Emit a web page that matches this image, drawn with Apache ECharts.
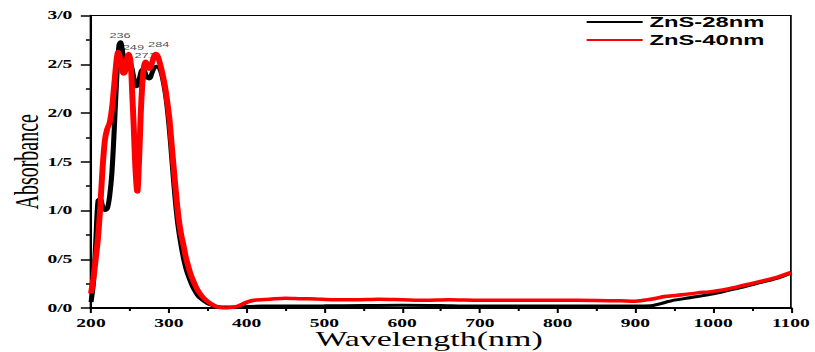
<!DOCTYPE html>
<html>
<head>
<meta charset="utf-8">
<script src="https://cdn.jsdelivr.net/npm/echarts@6/dist/echarts.min.js"></script>
<style>
html,body{margin:0;padding:0;background:#fff;overflow:hidden;width:815px;height:352px;}
#wrap{width:480px;height:352px;transform:scaleX(1.697917);transform-origin:0 0;}
#chart{width:480px;height:352px;}
</style>
</head>
<body>
<div id="wrap"><div id="chart"></div></div>
<script>
// ---- data (wavelength nm, absorbance) ----
const seriesNames = ['ZnS-28nm', 'ZnS-40nm'];

const wl28 = [200,203,206,209,212,215,218,221,224,227,230,233,236,238,240,243,246,249,252,255,258,260,263,266,269,272,275,278,281,284,287,290,293,296,299,302,305,308,311,314,317,320,323,326,330,334,338,342,346,350,355,360,365,370,380,390,400,420,500,550,600,650,680,700,800,900,920,930,950,970,1000,1030,1060,1080,1100];
const abs28 = [0.06,0.25,0.65,1.10,1.12,1.04,1.00,1.02,1.15,1.40,1.85,2.35,2.70,2.73,2.66,2.52,2.50,2.52,2.48,2.36,2.27,2.28,2.38,2.45,2.43,2.36,2.35,2.40,2.46,2.48,2.47,2.42,2.32,2.18,1.98,1.72,1.42,1.14,0.90,0.73,0.59,0.47,0.38,0.31,0.23,0.17,0.12,0.09,0.065,0.045,0.03,0.018,0.012,0.01,0.01,0.012,0.015,0.02,0.022,0.025,0.028,0.025,0.02,0.02,0.02,0.02,0.022,0.04,0.08,0.105,0.145,0.20,0.26,0.30,0.36];

const wl40 = [200,203,206,209,212,215,218,221,224,227,230,233,235,237,240,242,244,246,248.5,251,253,255,257,259.5,262,264,266,268,270,272,275,278,281,283.5,286,289,292,295,298,301,304,307,310,313,316,319,322,325,328,332,336,340,344,348,352,356,360,365,370,375,380,387,395,402,410,430,450,470,490,510,540,570,600,630,660,700,750,800,850,880,900,920,940,960,980,1000,1030,1060,1080,1100];
const abs40 = [0.15,0.30,0.50,0.72,1.05,1.45,1.73,1.84,1.90,2.05,2.30,2.55,2.63,2.58,2.45,2.40,2.43,2.55,2.61,2.52,2.20,1.85,1.45,1.19,1.55,2.00,2.30,2.47,2.53,2.50,2.45,2.50,2.58,2.61,2.58,2.50,2.40,2.28,2.12,1.93,1.65,1.38,1.12,0.90,0.75,0.64,0.52,0.43,0.35,0.27,0.20,0.15,0.11,0.08,0.055,0.035,0.018,0.006,0.0,0.0,0.005,0.015,0.04,0.065,0.08,0.09,0.10,0.095,0.092,0.085,0.085,0.09,0.085,0.08,0.085,0.08,0.08,0.08,0.078,0.075,0.07,0.09,0.12,0.135,0.155,0.17,0.215,0.27,0.31,0.365];

// peak annotations: [wavelength position, absorbance position, text]
const peakLabels = [[237.3, 2.80, '236'], [254.5, 2.67, '249'], [269.5, 2.59, '271'], [287, 2.70, '284']];

const xTicks = {min: 200, max: 1100, interval: 100};
const yTicks = {min: 0, max: 3, interval: 0.5};

function pairs(xs, ys){ return xs.map((x,i)=>[x, ys[i]]); }

const chart = echarts.init(document.getElementById('chart'), null, {renderer: 'svg'});
const tickFont = {color:'#000', fontFamily:'Liberation Serif', fontWeight:'bold', fontSize:11.5, lineHeight:11.5};
chart.setOption({
  animation: false,
  grid: {left: 53.6, right: 14.2, top: 15.5, bottom: 44, show: true, borderColor: '#000', borderWidth: 1,
         containLabel: false, outerBoundsMode: 'none'},
  legend: {
    data: seriesNames, orient: 'vertical', left: 344.5, top: 15, padding: 0,
    itemWidth: 33, itemHeight: 14, itemGap: 4,
    textStyle: {color:'#000', fontFamily:'Liberation Sans', fontWeight:'bold', fontSize:14, padding:[0,0,0,-1]},
    lineStyle: {width: 2},
    itemStyle: {opacity: 0, borderWidth: 0}
  },
  xAxis: {
    type: 'value', min: xTicks.min, max: xTicks.max, interval: xTicks.interval,
    name: 'Wavelength(nm)', nameLocation: 'middle', nameGap: 21, nameMoveOverlap: false,
    nameTextStyle: {color:'#000', fontFamily:'Liberation Serif', fontSize:20, lineHeight:20, padding:[0,14,0,0]},
    axisLine: {show: true, lineStyle: {color:'#000', width: 2}},
    axisTick: {show: true, length: 5, lineStyle: {color:'#000', width: 1.2}},
    minorTick: {show: true, splitNumber: 2, length: 3, lineStyle: {color:'#000', width: 1.2}},
    axisLabel: Object.assign({margin: 9, formatter: v => String(v)}, tickFont),
    splitLine: {show: false}
  },
  yAxis: {
    type: 'value', min: yTicks.min, max: yTicks.max, interval: yTicks.interval,
    name: 'Absorbance', nameLocation: 'middle', nameGap: 28, nameMoveOverlap: false,
    nameTextStyle: {color:'#000', fontFamily:'Liberation Serif', fontSize:20},
    axisLine: {show: true, lineStyle: {color:'#000', width: 1.4}},
    axisTick: {show: true, length: 6, lineStyle: {color:'#000', width: 1.5}},
    minorTick: {show: true, splitNumber: 2, length: 3, lineStyle: {color:'#000', width: 1.5}},
    axisLabel: Object.assign({margin: 11, formatter: v => v.toFixed(1).replace('.', '/')}, tickFont),
    splitLine: {show: false}
  },
  series: [
    {name: seriesNames[0], type: 'line', data: pairs(wl28, abs28), symbol: 'none', smooth: 0.3, z: 3,
     lineStyle: {color:'#000', width: 3}, itemStyle: {color:'#000'}},
    {name: seriesNames[1], type: 'line', data: pairs(wl40, abs40), symbol: 'none', smooth: 0.3, z: 4,
     lineStyle: {color:'#ff0000', width: 3.5}, itemStyle: {color:'#ff0000'}},
    {name: 'peaks', type: 'scatter', data: peakLabels, symbolSize: 0, z: 1, silent: true,
     label: {show: true, position: 'inside', formatter: p => p.value[2], color:'#222', fontFamily:'Liberation Sans', fontSize: 7.5}}
  ]
});
</script>
</body>
</html>
